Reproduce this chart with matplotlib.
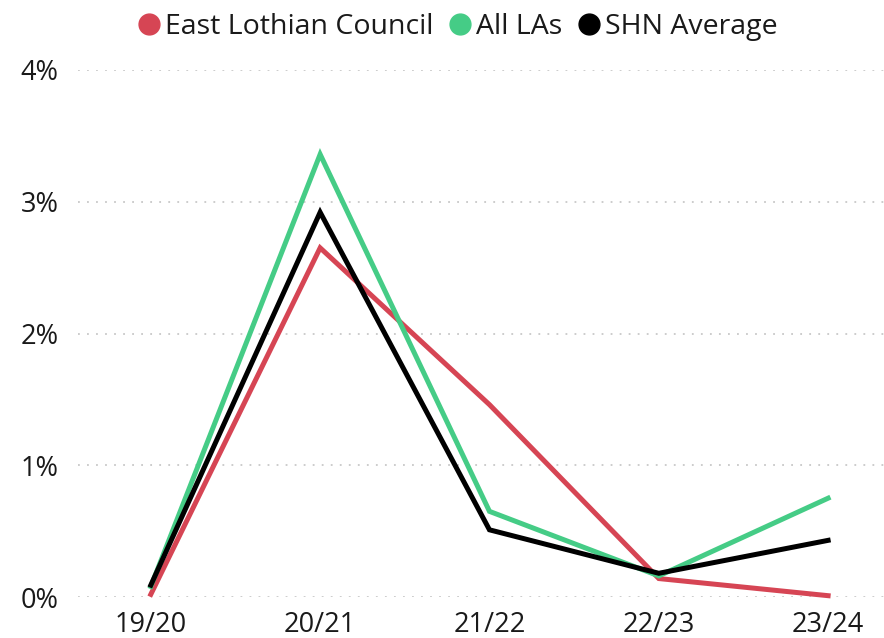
import matplotlib.pyplot as plt
from matplotlib.lines import Line2D
from matplotlib.ticker import FuncFormatter

plt.rcParams['font.family'] = ['Open Sans', 'DejaVu Sans']

years = ['19/20', '20/21', '21/22', '22/23', '23/24']
east_lothian = [0.02, 2.65, 1.46, 0.14, 0.01]
all_las = [0.08, 3.36, 0.65, 0.16, 0.75]
shn_avg = [0.09, 2.92, 0.51, 0.18, 0.43]

names = ['East Lothian Council', 'All LAs', 'SHN Average']
colors = ['#D64554', '#45CC86', '#000000']

fig = plt.figure(figsize=(8.84, 6.38), dpi=100)
ax = fig.add_axes([78 / 884, 1 - 597 / 638, 806 / 884, 527 / 638])

x = range(len(years))
for vals, c in zip([east_lothian, all_las, shn_avg], colors):
    ax.plot(x, vals, color=c, lw=3.6, clip_on=False, solid_joinstyle='miter', zorder=3)

ax.set_xlim(-0.43, 4.33)
ax.set_ylim(0, 4)
ax.set_yticks([0, 1, 2, 3, 4])
ax.yaxis.set_major_formatter(FuncFormatter(lambda v, p: '%d%%' % v))
ax.set_xticks(list(x))
ax.set_xticklabels(years)
ax.tick_params(length=0, labelsize=19.5, colors='#1a1a1a', pad=10)
ax.tick_params(axis='y', pad=14)
ax.grid(axis='y', color='#C8C8C8', linestyle=(0, (1, 4)), lw=1.3)
for s in ax.spines.values():
    s.set_visible(False)

handles = [Line2D([], [], marker='o', ls='none', color=c, markersize=15) for c in colors]
fig.legend(handles, names, loc='upper center', bbox_to_anchor=(0.516, 1.02), ncol=3,
           frameon=False, fontsize=20.5, handletextpad=0.05, columnspacing=0.45,
           handlelength=1.0, labelcolor='#1a1a1a')

fig.savefig('out.png', dpi=100)
